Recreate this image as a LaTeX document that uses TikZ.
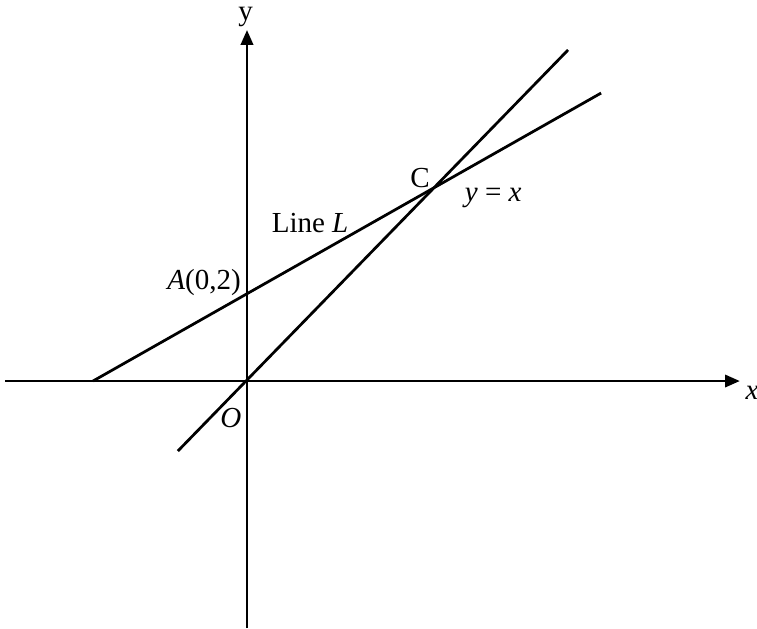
\documentclass[tikz,border=0pt]{standalone}
\usepackage{fontspec}
\setmainfont{Liberation Serif}
\usepackage{tikz}
\usetikzlibrary{positioning,arrows.meta,calc}
\tikzset{
  axis/.style={-{Triangle[length=3.4mm, width=2.8mm]}, line width=1.8pt},
  ln/.style={line width=1.8pt},
  lbl/.style={font=\fontsize{19}{21}\selectfont, inner sep=1pt},
}

\begin{document}
\begin{tikzpicture}
  \useasboundingbox (-5.678,-5.678) rectangle (11.724,8.759);
  % axes
  \coordinate (O) at (0,0);
  \coordinate (xl) at (-5.56,0);
  \coordinate (xr) at (11.33,0);
  \coordinate (yb) at (0,-5.68);
  \coordinate (yt) at (0,8.07);
  \draw[axis] (xl) -- (xr);
  \draw[axis] (yb) -- (yt);
  % the two lines
  \coordinate (Lb) at (-3.54,0);
  \coordinate (Le) at (8.14,6.62);
  \coordinate (Db) at (-1.59,-1.61);
  \coordinate (De) at (7.38,7.61);
  \coordinate (A) at (0,2.02);
  \draw[ln] (Lb) -- (Le);
  \draw[ln] (Db) -- (De);

  \node[lbl] (ylab) at (-0.03,8.36) {y};
  \node[lbl, anchor=west] (xlab) at (11.42,-0.28) {\itshape x};
  \node[lbl] (clab) at (3.98,4.67) {C};
  \node[lbl] (eqlab) at (5.66,4.21) {{\itshape y} = {\itshape x}};
  \node[lbl] (llab) at (1.45,3.64) {Line {\itshape L}};
  \node[lbl, anchor=east] (alab) at (-0.1,2.26) {{\itshape A}(0,2)};
  \node[lbl] (olab) at (-0.37,-0.84) {\itshape O};
\end{tikzpicture}
\end{document}
